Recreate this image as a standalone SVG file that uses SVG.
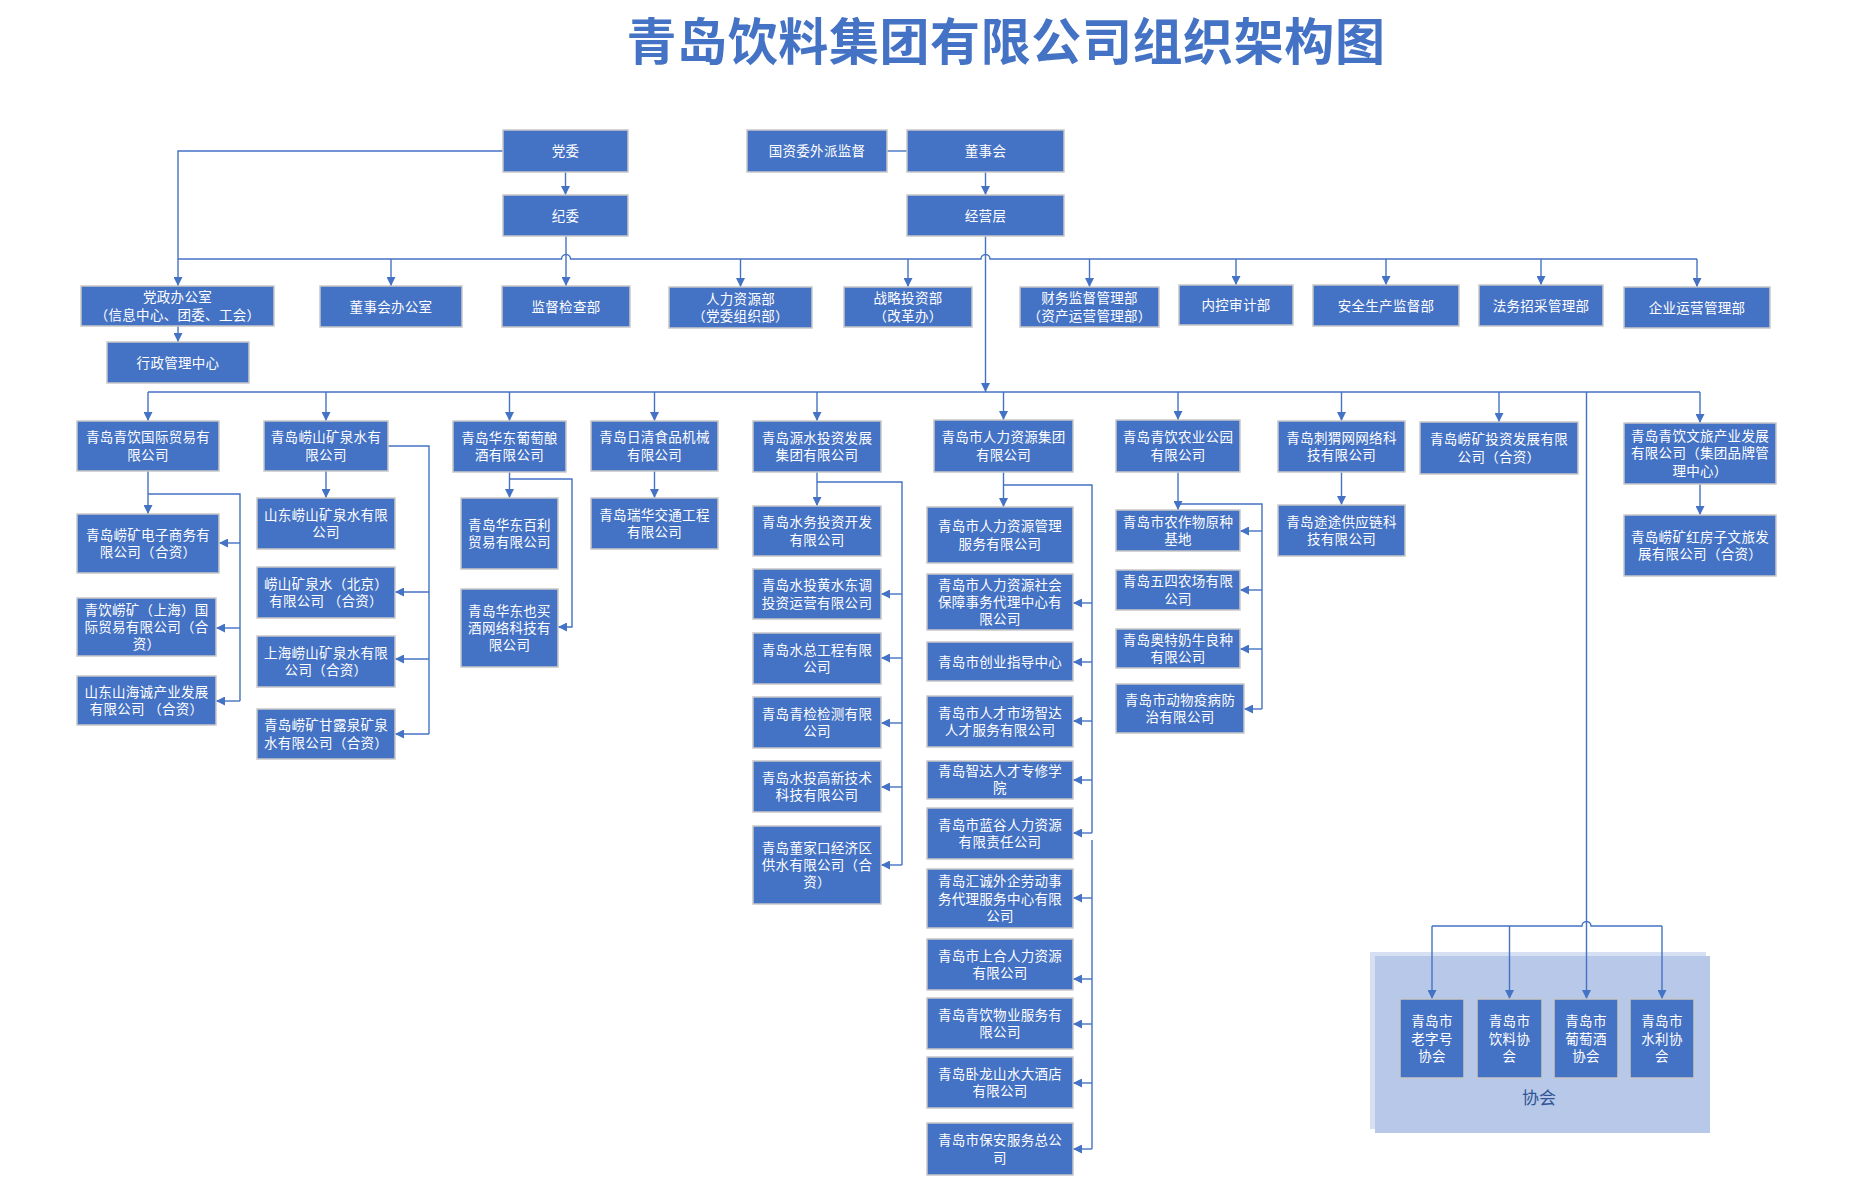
<svg xmlns="http://www.w3.org/2000/svg" width="1861" height="1199" viewBox="0 0 1861 1199">
<style>
.n rect{fill:#4472C4;stroke:#C8C8C8;stroke-width:1.5}
.n text{fill:#FFFFFF;font-family:"Noto Sans CJK SC","Noto Sans",sans-serif;font-size:13.5px;letter-spacing:0.3px;text-anchor:middle}
.c path{fill:none;stroke:#4472C4;stroke-width:1.4}
.c path.a{marker-end:url(#ar)}
.t{fill:#4472C4;font-family:"Noto Sans CJK SC",sans-serif;font-size:50px;font-weight:bold;letter-spacing:0.6px;text-anchor:middle}
.g text{fill:#2F5597;font-family:"Noto Sans CJK SC",sans-serif;font-size:17px;text-anchor:middle}
</style>
<defs>
<marker id="ar" viewBox="0 0 10 10" refX="10" refY="5" markerWidth="9" markerHeight="9" markerUnits="userSpaceOnUse" orient="auto"><path d="M0,0 L10,5 L0,10 z" fill="#4472C4"/></marker>
</defs>
<rect width="1861" height="1199" fill="#FFFFFF"/>
<text class="t" x="1006" y="60">青岛饮料集团有限公司组织架构图</text>

<g id="assoc_group" class="g">
<rect x="1370" y="952" width="336" height="177" fill="#D6E0F2"/>
<rect x="1375" y="956" width="335" height="177" fill="#B7C8E8"/>
<text x="1539" y="1104">协会</text>
</g>

<g id="connectors" class="c">
<path class="a" d="M503,151 H178 V286"/>
<path class="a" d="M565.5,172 V195"/>
<path class="a" d="M566,236 V286"/>
<path d="M887,151 H907"/>
<path class="a" d="M985.5,172 V195"/>
<path class="a" d="M985.5,236 V392"/>
<path d="M178,259 H561.5 a4.5,4.5 0 0 1 9,0 H981 a4.5,4.5 0 0 1 9,0 H1697"/>
<path class="a" d="M391,259 V286"/>
<path class="a" d="M740.5,259 V287"/>
<path class="a" d="M908,259 V287"/>
<path class="a" d="M1089.5,259 V287"/>
<path class="a" d="M1236,259 V285"/>
<path class="a" d="M1386,259 V285"/>
<path class="a" d="M1541,259 V285"/>
<path class="a" d="M1697,259 V287"/>
<path class="a" d="M178,326 V342"/>
<path d="M148,392 H1700"/>
<path class="a" d="M148,392 V421"/>
<path class="a" d="M326,392 V421"/>
<path class="a" d="M509.5,392 V421"/>
<path class="a" d="M654.5,392 V421"/>
<path class="a" d="M817,392 V421"/>
<path class="a" d="M1003.5,392 V420"/>
<path class="a" d="M1178,392 V420"/>
<path class="a" d="M1341.5,392 V421"/>
<path class="a" d="M1499,392 V422"/>
<path class="a" d="M1700,392 V423"/>
<path class="a" d="M1586.5,392 V999"/>
<path d="M1432,926 H1582 a4.5,4.5 0 0 1 9,0 H1662"/>
<path class="a" d="M1432,926 V999"/>
<path class="a" d="M1509.5,926 V999"/>
<path class="a" d="M1662,926 V999"/>
<path class="a" d="M148,471 V514"/>
<path d="M148,494 H240 V701"/>
<path class="a" d="M240,543 H219"/>
<path class="a" d="M240,628 H216"/>
<path class="a" d="M240,701 H216"/>
<path class="a" d="M326,471 V498"/>
<path d="M388,446 H429 V734"/>
<path class="a" d="M429,592 H395"/>
<path class="a" d="M429,659 H395"/>
<path class="a" d="M429,734 H395"/>
<path class="a" d="M509.5,472 V498"/>
<path class="a" d="M509.5,479 H572 V627 H558"/>
<path class="a" d="M654.5,471 V498"/>
<path class="a" d="M817,472 V506"/>
<path d="M817,482 H902 V865"/>
<path class="a" d="M902,594 H881"/>
<path class="a" d="M902,658 H881"/>
<path class="a" d="M902,723 H881"/>
<path class="a" d="M902,787 H881"/>
<path class="a" d="M902,865 H881"/>
<path class="a" d="M1003.5,472 V507"/>
<path d="M1003.5,485 H1092 V833"/>
<path d="M1092,840 V1149"/>
<path class="a" d="M1092,603 H1073"/>
<path class="a" d="M1092,662 H1073"/>
<path class="a" d="M1092,721 H1073"/>
<path class="a" d="M1092,780 H1073"/>
<path class="a" d="M1092,833 H1073"/>
<path class="a" d="M1092,898 H1073"/>
<path class="a" d="M1092,979 H1073"/>
<path class="a" d="M1092,1024 H1073"/>
<path class="a" d="M1092,1083 H1073"/>
<path class="a" d="M1092,1149 H1073"/>
<path class="a" d="M1178,472 V510"/>
<path d="M1178,504 H1262 V709"/>
<path class="a" d="M1262,531 H1240"/>
<path class="a" d="M1262,590 H1240"/>
<path class="a" d="M1262,649 H1240"/>
<path class="a" d="M1262,709 H1244"/>
<path class="a" d="M1341.5,472 V505"/>
<path class="a" d="M1700,484 V515"/>
</g>

<g id="n_dangwei" class="n"><rect x="503" y="130" width="125" height="42"/><text x="565.5" y="156">党委</text></g>
<g id="n_jiwei" class="n"><rect x="503" y="195" width="125" height="41"/><text x="565.5" y="220.5">纪委</text></g>
<g id="n_guozi" class="n"><rect x="747" y="130" width="140" height="42"/><text x="817" y="156">国资委外派监督</text></g>
<g id="n_dongshihui" class="n"><rect x="907" y="130" width="157" height="42"/><text x="985.5" y="156">董事会</text></g>
<g id="n_jingying" class="n"><rect x="907" y="195" width="157" height="41"/><text x="985.5" y="220.5">经营层</text></g>

<g id="n_dangzheng" class="n"><rect x="81" y="286" width="193" height="40"/><text x="177.5" y="302">党政办公室</text><text x="177.5" y="320">（信息中心、团委、工会）</text></g>
<g id="n_xingzheng" class="n"><rect x="107" y="342" width="142" height="41"/><text x="178" y="367.5">行政管理中心</text></g>
<g id="n_dongban" class="n"><rect x="320" y="286" width="142" height="41"/><text x="391" y="311.5">董事会办公室</text></g>
<g id="n_jiandu" class="n"><rect x="502" y="286" width="128" height="41"/><text x="566" y="311.5">监督检查部</text></g>
<g id="n_renli" class="n"><rect x="669" y="287" width="143" height="41"/><text x="740.5" y="303.5">人力资源部</text><text x="740.5" y="321">（党委组织部）</text></g>
<g id="n_zhanlue" class="n"><rect x="844" y="287" width="128" height="40"/><text x="908" y="303">战略投资部</text><text x="908" y="320.5">（改革办）</text></g>
<g id="n_caiwu" class="n"><rect x="1020" y="287" width="139" height="40"/><text x="1089.5" y="303">财务监督管理部</text><text x="1089.5" y="320.5">（资产运营管理部）</text></g>
<g id="n_neikong" class="n"><rect x="1179" y="285" width="114" height="40"/><text x="1236" y="310">内控审计部</text></g>
<g id="n_anquan" class="n"><rect x="1313" y="285" width="146" height="41"/><text x="1386" y="310.5">安全生产监督部</text></g>
<g id="n_fawu" class="n"><rect x="1479" y="285" width="124" height="41"/><text x="1541" y="310.5">法务招采管理部</text></g>
<g id="n_qiye" class="n"><rect x="1624" y="287" width="146" height="41"/><text x="1697" y="312.5">企业运营管理部</text></g>

<g id="n_guoji" class="n"><rect x="77" y="421" width="142" height="50"/><text x="148" y="442.4">青岛青饮国际贸易有</text><text x="148" y="459.7">限公司</text></g>
<g id="n_laoshan" class="n"><rect x="264" y="421" width="124" height="50"/><text x="326" y="442.4">青岛崂山矿泉水有</text><text x="326" y="459.7">限公司</text></g>
<g id="n_huadong" class="n"><rect x="453" y="421" width="113" height="51"/><text x="509.5" y="442.9">青岛华东葡萄酿</text><text x="509.5" y="460.2">酒有限公司</text></g>
<g id="n_riqing" class="n"><rect x="591" y="421" width="127" height="50"/><text x="654.5" y="442.4">青岛日清食品机械</text><text x="654.5" y="459.7">有限公司</text></g>
<g id="n_yuanshui" class="n"><rect x="753" y="421" width="128" height="51"/><text x="817" y="442.9">青岛源水投资发展</text><text x="817" y="460.2">集团有限公司</text></g>
<g id="n_renlijt" class="n"><rect x="934" y="420" width="139" height="52"/><text x="1003.5" y="442.4">青岛市人力资源集团</text><text x="1003.5" y="459.7">有限公司</text></g>
<g id="n_nongye" class="n"><rect x="1116" y="420" width="124" height="52"/><text x="1178" y="442.4">青岛青饮农业公园</text><text x="1178" y="459.7">有限公司</text></g>
<g id="n_ciwei" class="n"><rect x="1278" y="421" width="127" height="51"/><text x="1341.5" y="442.9">青岛刺猬网网络科</text><text x="1341.5" y="460.2">技有限公司</text></g>
<g id="n_touzi" class="n"><rect x="1420" y="422" width="158" height="52"/><text x="1499" y="444.4">青岛崂矿投资发展有限</text><text x="1499" y="461.7">公司（合资）</text></g>
<g id="n_wenlv" class="n"><rect x="1624" y="423" width="152" height="61"/><text x="1700" y="441">青岛青饮文旅产业发展</text><text x="1700" y="458.3">有限公司（集团品牌管</text><text x="1700" y="475.6">理中心）</text></g>

<g id="n_dianzi" class="n"><rect x="77" y="514" width="142" height="59"/><text x="148" y="539.9">青岛崂矿电子商务有</text><text x="148" y="557.2">限公司（合资）</text></g>
<g id="n_shanghai" class="n"><rect x="77" y="598" width="139" height="58"/><text x="146.5" y="614.7">青饮崂矿（上海）国</text><text x="146.5" y="632">际贸易有限公司（合</text><text x="146.5" y="649.3">资）</text></g>
<g id="n_shanhai" class="n"><rect x="77" y="676" width="139" height="49"/><text x="146.5" y="696.9">山东山海诚产业发展</text><text x="146.5" y="714.2">有限公司 （合资）</text></g>
<g id="n_sdlaoshan" class="n"><rect x="257" y="498" width="138" height="51"/><text x="326" y="519.9">山东崂山矿泉水有限</text><text x="326" y="537.2">公司</text></g>
<g id="n_beijing" class="n"><rect x="257" y="567" width="138" height="51"/><text x="326" y="588.9">崂山矿泉水（北京）</text><text x="326" y="606.2">有限公司 （合资）</text></g>
<g id="n_shlaoshan" class="n"><rect x="257" y="636" width="138" height="51"/><text x="326" y="657.9">上海崂山矿泉水有限</text><text x="326" y="675.2">公司（合资）</text></g>
<g id="n_ganlu" class="n"><rect x="257" y="709" width="138" height="50"/><text x="326" y="730.4">青岛崂矿甘露泉矿泉</text><text x="326" y="747.7">水有限公司（合资）</text></g>
<g id="n_baili" class="n"><rect x="461" y="498" width="97" height="71"/><text x="509.5" y="529.9">青岛华东百利</text><text x="509.5" y="547.2">贸易有限公司</text></g>
<g id="n_yemai" class="n"><rect x="461" y="589" width="97" height="78"/><text x="509.5" y="615.7">青岛华东也买</text><text x="509.5" y="633">酒网络科技有</text><text x="509.5" y="650.3">限公司</text></g>
<g id="n_ruihua" class="n"><rect x="591" y="498" width="127" height="51"/><text x="654.5" y="519.9">青岛瑞华交通工程</text><text x="654.5" y="537.2">有限公司</text></g>

<g id="n_shuiwu" class="n"><rect x="753" y="506" width="128" height="50"/><text x="817" y="527.4">青岛水务投资开发</text><text x="817" y="544.7">有限公司</text></g>
<g id="n_huangshui" class="n"><rect x="753" y="569" width="128" height="50"/><text x="817" y="590.4">青岛水投黄水东调</text><text x="817" y="607.7">投资运营有限公司</text></g>
<g id="n_shuizong" class="n"><rect x="753" y="633" width="128" height="51"/><text x="817" y="654.9">青岛水总工程有限</text><text x="817" y="672.2">公司</text></g>
<g id="n_qingjian" class="n"><rect x="753" y="697" width="128" height="51"/><text x="817" y="718.9">青岛青检检测有限</text><text x="817" y="736.2">公司</text></g>
<g id="n_gaoxin" class="n"><rect x="753" y="761" width="128" height="51"/><text x="817" y="782.9">青岛水投高新技术</text><text x="817" y="800.2">科技有限公司</text></g>
<g id="n_dongjiakou" class="n"><rect x="753" y="826" width="128" height="78"/><text x="817" y="852.7">青岛董家口经济区</text><text x="817" y="870">供水有限公司（合</text><text x="817" y="887.3">资）</text></g>

<g id="n_guanli" class="n"><rect x="927" y="507" width="146" height="56"/><text x="1000" y="531.4">青岛市人力资源管理</text><text x="1000" y="548.7">服务有限公司</text></g>
<g id="n_shebao" class="n"><rect x="927" y="574" width="146" height="56"/><text x="1000" y="589.7">青岛市人力资源社会</text><text x="1000" y="607">保障事务代理中心有</text><text x="1000" y="624.3">限公司</text></g>
<g id="n_chuangye" class="n"><rect x="927" y="642" width="146" height="39"/><text x="1000" y="666.5">青岛市创业指导中心</text></g>
<g id="n_zhida" class="n"><rect x="927" y="696" width="146" height="51"/><text x="1000" y="717.9">青岛市人才市场智达</text><text x="1000" y="735.2">人才服务有限公司</text></g>
<g id="n_xueyuan" class="n"><rect x="927" y="761" width="146" height="38"/><text x="1000" y="776">青岛智达人才专修学</text><text x="1000" y="793.3">院</text></g>
<g id="n_langu" class="n"><rect x="927" y="808" width="146" height="51"/><text x="1000" y="829.9">青岛市蓝谷人力资源</text><text x="1000" y="847.2">有限责任公司</text></g>
<g id="n_huicheng" class="n"><rect x="927" y="869" width="146" height="59"/><text x="1000" y="886.2">青岛汇诚外企劳动事</text><text x="1000" y="903.5">务代理服务中心有限</text><text x="1000" y="920.8">公司</text></g>
<g id="n_shanghe" class="n"><rect x="927" y="939" width="146" height="51"/><text x="1000" y="960.9">青岛市上合人力资源</text><text x="1000" y="978.2">有限公司</text></g>
<g id="n_wuye" class="n"><rect x="927" y="998" width="146" height="51"/><text x="1000" y="1019.9">青岛青饮物业服务有</text><text x="1000" y="1037.2">限公司</text></g>
<g id="n_wolong" class="n"><rect x="927" y="1057" width="146" height="51"/><text x="1000" y="1078.9">青岛卧龙山水大酒店</text><text x="1000" y="1096.2">有限公司</text></g>
<g id="n_baoan" class="n"><rect x="927" y="1123" width="146" height="52"/><text x="1000" y="1145.4">青岛市保安服务总公</text><text x="1000" y="1162.7">司</text></g>

<g id="n_nongzuowu" class="n"><rect x="1116" y="510" width="124" height="41"/><text x="1178" y="526.9">青岛市农作物原种</text><text x="1178" y="544.2">基地</text></g>
<g id="n_wusi" class="n"><rect x="1116" y="570" width="124" height="40"/><text x="1178" y="586.4">青岛五四农场有限</text><text x="1178" y="603.7">公司</text></g>
<g id="n_aote" class="n"><rect x="1116" y="629" width="124" height="39"/><text x="1178" y="644.9">青岛奥特奶牛良种</text><text x="1178" y="662.2">有限公司</text></g>
<g id="n_dongwu" class="n"><rect x="1116" y="684" width="128" height="49"/><text x="1180" y="704.9">青岛市动物疫病防</text><text x="1180" y="722.2">治有限公司</text></g>
<g id="n_tutu" class="n"><rect x="1278" y="505" width="127" height="51"/><text x="1341.5" y="526.9">青岛途途供应链科</text><text x="1341.5" y="544.2">技有限公司</text></g>
<g id="n_hongfangzi" class="n"><rect x="1624" y="515" width="152" height="61"/><text x="1700" y="541.9">青岛崂矿红房子文旅发</text><text x="1700" y="559.2">展有限公司（合资）</text></g>

<g id="n_laozihao" class="n"><rect x="1400" y="999" width="64" height="79"/><text x="1432" y="1026.2">青岛市</text><text x="1432" y="1043.5">老字号</text><text x="1432" y="1060.8">协会</text></g>
<g id="n_yinliao" class="n"><rect x="1477" y="999" width="65" height="79"/><text x="1509.5" y="1026.2">青岛市</text><text x="1509.5" y="1043.5">饮料协</text><text x="1509.5" y="1060.8">会</text></g>
<g id="n_putaojiu" class="n"><rect x="1554" y="999" width="64" height="79"/><text x="1586" y="1026.2">青岛市</text><text x="1586" y="1043.5">葡萄酒</text><text x="1586" y="1060.8">协会</text></g>
<g id="n_shuili" class="n"><rect x="1630" y="999" width="64" height="79"/><text x="1662" y="1026.2">青岛市</text><text x="1662" y="1043.5">水利协</text><text x="1662" y="1060.8">会</text></g>
</svg>
